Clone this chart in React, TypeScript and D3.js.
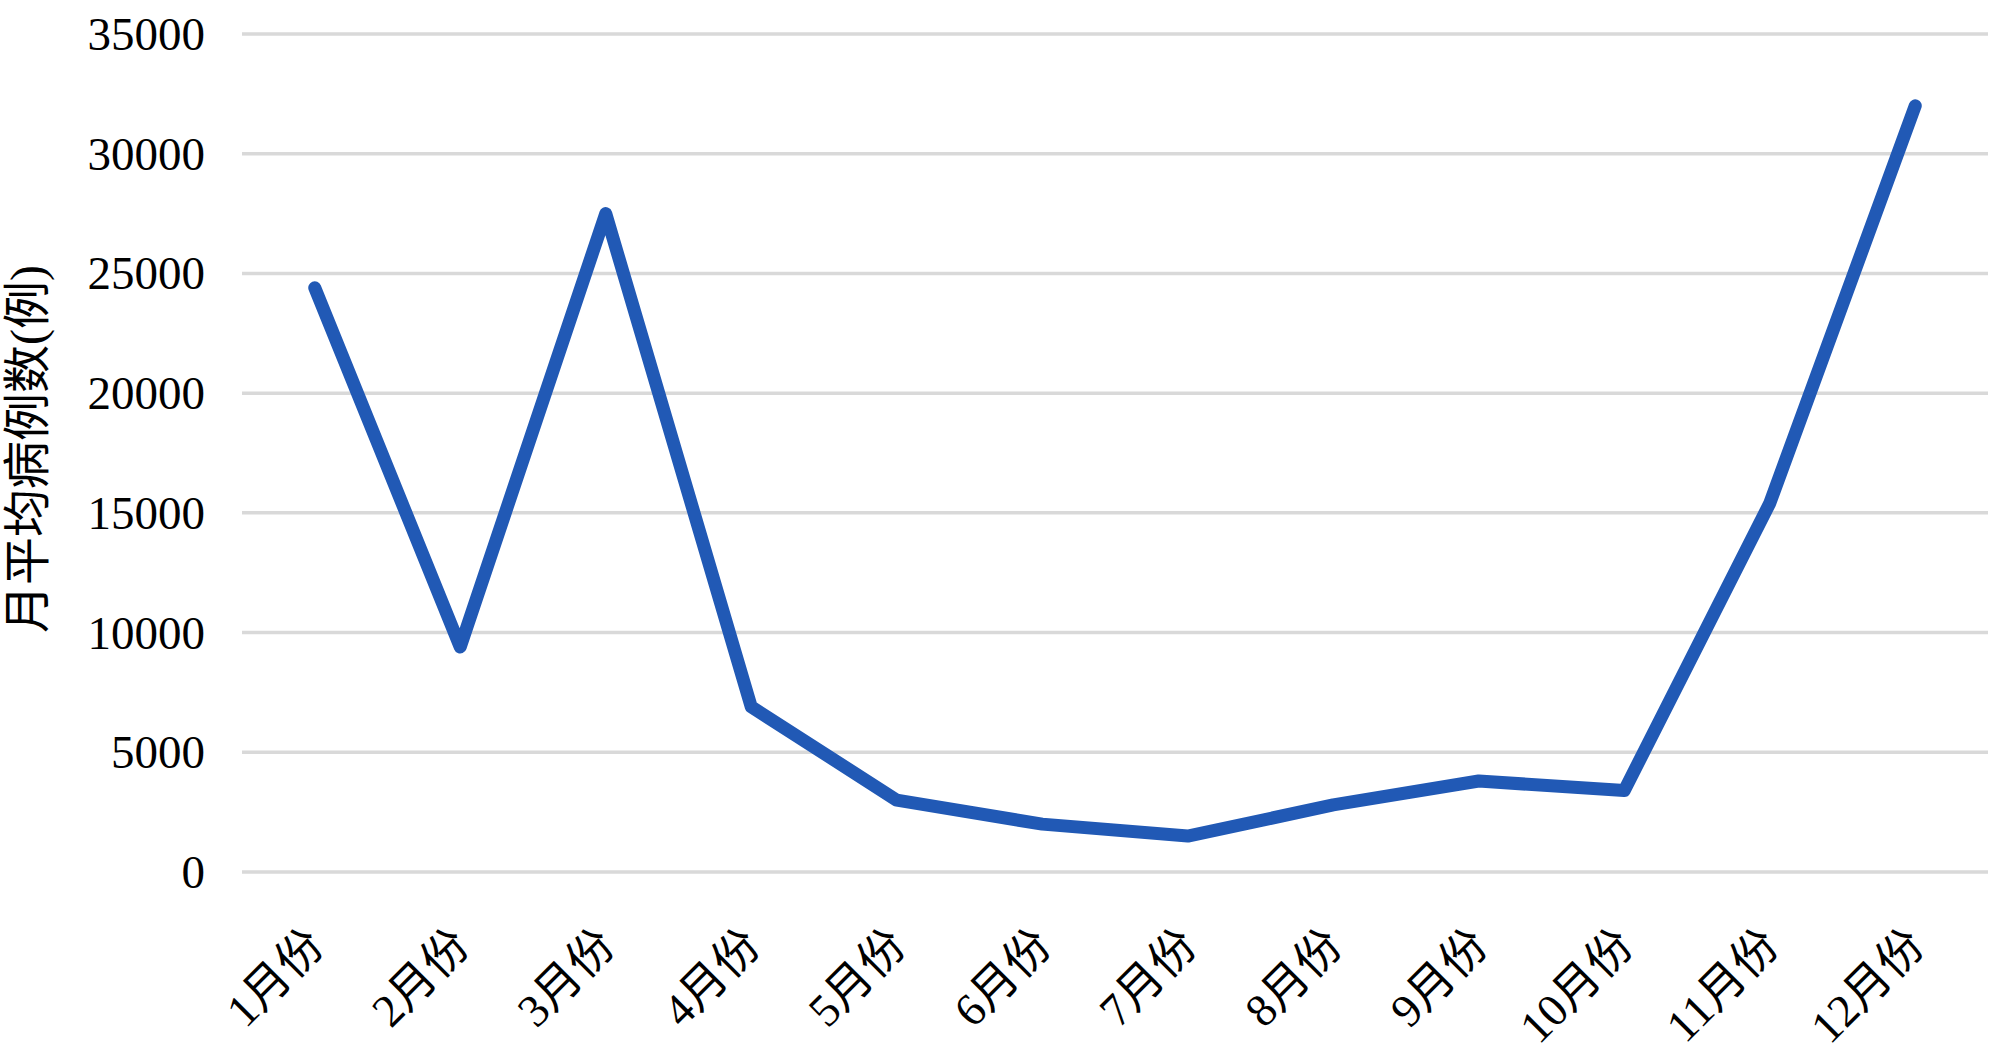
import React from "react";
import * as d3 from "d3";

const months = ["1月份", "2月份", "3月份", "4月份", "5月份", "6月份", "7月份", "8月份", "9月份", "10月份", "11月份", "12月份"];
const cases = [24400, 9400, 27500, 6900, 3000, 2000, 1500, 2800, 3800, 3400, 15400, 32000];
const yTicks = [0, 5000, 10000, 15000, 20000, 25000, 30000, 35000];
const yTitle = "月平均病例数(例)";

const W = 2000;
const H = 1053;
const plotLeft = 242;
const plotRight = 1988;
const plotTop = 34;
const plotBottom = 872;
const FONT = "'Liberation Serif', 'Times New Roman', 'Noto Sans CJK SC', serif";

export default function App() {
  const x = d3.scaleBand<string>().domain(months).range([plotLeft, plotRight]);
  const y = d3.scaleLinear().domain([0, 35000]).range([plotBottom, plotTop]);
  const line = d3
    .line<number>()
    .x((_, i) => (x(months[i]) as number) + x.bandwidth() / 2)
    .y((d) => y(d));

  return (
    <svg
      width={W}
      height={H}
      style={{ position: "absolute", left: 0, top: 0, background: "#fff" }}
      fontFamily={FONT}
    >
      <rect x={0} y={0} width={W} height={H} fill="#fff" />
      {yTicks.map((t) => (
        <g key={t}>
          <line x1={plotLeft} x2={plotRight} y1={y(t)} y2={y(t)} stroke="#d9d9d9" strokeWidth={3.5} />
          <text x={205} y={y(t)} textAnchor="end" dominantBaseline="central" fontSize={47} fill="#000">
            {t}
          </text>
        </g>
      ))}
      <text
        transform={`translate(27, 449) rotate(-90)`}
        textAnchor="middle"
        dominantBaseline="central"
        fontSize={48}
        fill="#000"
      >
        {yTitle}
      </text>
      {months.map((m) => {
        const cx = (x(m) as number) + x.bandwidth() / 2;
        return (
          <text
            key={m}
            transform={`translate(${cx + 12}, 948) rotate(-45)`}
            textAnchor="end"
            fontSize={46}
            fill="#000"
          >
            {m}
          </text>
        );
      })}
      <path
        d={line(cases) || ""}
        fill="none"
        stroke="#2159B5"
        strokeWidth={13}
        strokeLinejoin="round"
        strokeLinecap="round"
      />
    </svg>
  );
}
